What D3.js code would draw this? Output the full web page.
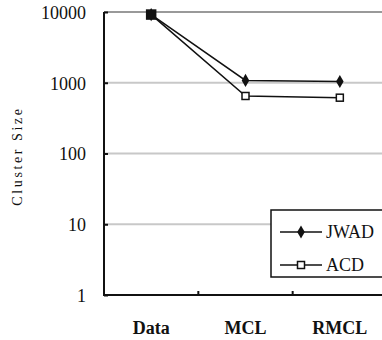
<!DOCTYPE html>
<html>
<head>
<meta charset="utf-8">
<script src="https://cdn.jsdelivr.net/npm/d3@7"></script>
<style>
  body { margin: 0; background: #fff; }
  svg { display: block; }
  svg text { font-family: "Liberation Serif", "DejaVu Serif", serif !important; fill: #111; }
</style>
</head>
<body>
<svg id="chart" width="382" height="340"></svg>
<script>
const categories = ['Data', 'MCL', 'RMCL'];
const jwadValues = [9200, 1080, 1040];
const acdValues = [9200, 650, 615];
const yTicks = [1, 10, 100, 1000, 10000];

const margin = {left: 104, top: 12, right: -5, bottom: 45};
const width = 382, height = 340;

const svg = d3.select('#chart');

const x = d3.scalePoint().domain(categories)
  .range([margin.left, width - margin.right]).padding(0.5);
const band = (width - margin.right - margin.left) / categories.length;
const y = d3.scaleLog().domain([1, 10000]).range([height - margin.bottom, margin.top]);

// gridlines
svg.append('g').selectAll('line').data(yTicks.slice(1)).enter().append('line')
  .attr('x1', margin.left).attr('x2', width)
  .attr('y1', d => y(d)).attr('y2', d => y(d))
  .attr('stroke', d => d === 10000 ? '#999' : '#c8c8c8')
  .attr('stroke-width', 2);

// y axis
const yAxis = svg.append('g').attr('transform', `translate(${margin.left},0)`)
  .call(d3.axisRight(y).tickValues(yTicks).tickSize(4).tickFormat(d3.format('d')));
yAxis.attr('font-family', null);
yAxis.select('.domain').remove();
yAxis.selectAll('.tick line').attr('stroke', '#111').attr('stroke-width', 2);
yAxis.selectAll('.tick text').attr('x', -18).attr('text-anchor', 'end')
  .style('font-size', '18px').attr('dy', '0.35em');
svg.append('line').attr('x1', margin.left).attr('x2', margin.left)
  .attr('y1', y(10000)).attr('y2', y(1)).attr('stroke', '#111').attr('stroke-width', 2);

// x axis
svg.append('line').attr('x1', margin.left - 1).attr('x2', width)
  .attr('y1', y(1)).attr('y2', y(1)).attr('stroke', '#111').attr('stroke-width', 2);
svg.append('g').selectAll('line').data(categories.slice(1)).enter().append('line')
  .attr('x1', d => x(d) - band / 2).attr('x2', d => x(d) - band / 2)
  .attr('y1', y(1)).attr('y2', y(1) - 4)
  .attr('stroke', '#111').attr('stroke-width', 2);
svg.append('g').selectAll('text').data(categories).enter().append('text')
  .attr('x', d => x(d)).attr('y', 334)
  .attr('text-anchor', 'middle').style('font-size', '18px').style('font-weight', 'bold')
  .text(d => d);

// y label
svg.append('text').attr('transform', 'translate(22,156) rotate(-90)')
  .attr('text-anchor', 'middle').style('font-size', '14px').style('letter-spacing', '2.6px')
  .text('Cluster Size');

// series
const line = d3.line().x((d, i) => x(categories[i])).y(d => y(d));
svg.append('path').datum(acdValues).attr('d', line)
  .attr('fill', 'none').attr('stroke', '#111').attr('stroke-width', 1.5);
svg.append('path').datum(jwadValues).attr('d', line)
  .attr('fill', 'none').attr('stroke', '#111').attr('stroke-width', 1.5);

const diamond = d3.symbol().type(d3.symbolDiamond).size(50);
svg.append('g').selectAll('path').data(jwadValues).enter().append('path')
  .attr('d', diamond)
  .attr('transform', (d, i) => `translate(${x(categories[i])},${y(d)})`)
  .attr('fill', '#111');
svg.append('g').selectAll('rect').data(acdValues).enter().append('rect')
  .attr('x', (d, i) => x(categories[i]) - (i === 0 ? 4.5 : 3.5))
  .attr('y', (d, i) => y(d) - (i === 0 ? 4.5 : 3.5))
  .attr('width', (d, i) => i === 0 ? 9 : 7).attr('height', (d, i) => i === 0 ? 9 : 7)
  .attr('fill', (d, i) => i === 0 ? '#111' : '#fff')
  .attr('stroke', '#111').attr('stroke-width', 1.5);

// legend
const legend = svg.append('g').attr('transform', 'translate(271,210)');
legend.append('rect').attr('width', 120).attr('height', 67)
  .attr('fill', '#fff').attr('stroke', '#111').attr('stroke-width', 1.5);
const entries = [{name: 'JWAD', y: 22, sym: 'diamond'}, {name: 'ACD', y: 55, sym: 'square'}];
entries.forEach(e => {
  legend.append('line').attr('x1', 9).attr('x2', 51).attr('y1', e.y).attr('y2', e.y)
    .attr('stroke', '#111').attr('stroke-width', 1.5);
  if (e.sym === 'diamond') {
    legend.append('path').attr('d', diamond).attr('transform', `translate(30,${e.y})`).attr('fill', '#111');
  } else {
    legend.append('rect').attr('x', 26.5).attr('y', e.y - 3.5).attr('width', 7).attr('height', 7)
      .attr('fill', '#fff').attr('stroke', '#111').attr('stroke-width', 1.5);
  }
  legend.append('text').attr('x', 55).attr('y', e.y).attr('dy', '0.35em')
    .style('font-size', '18px').text(e.name);
});
</script>
</body>
</html>
